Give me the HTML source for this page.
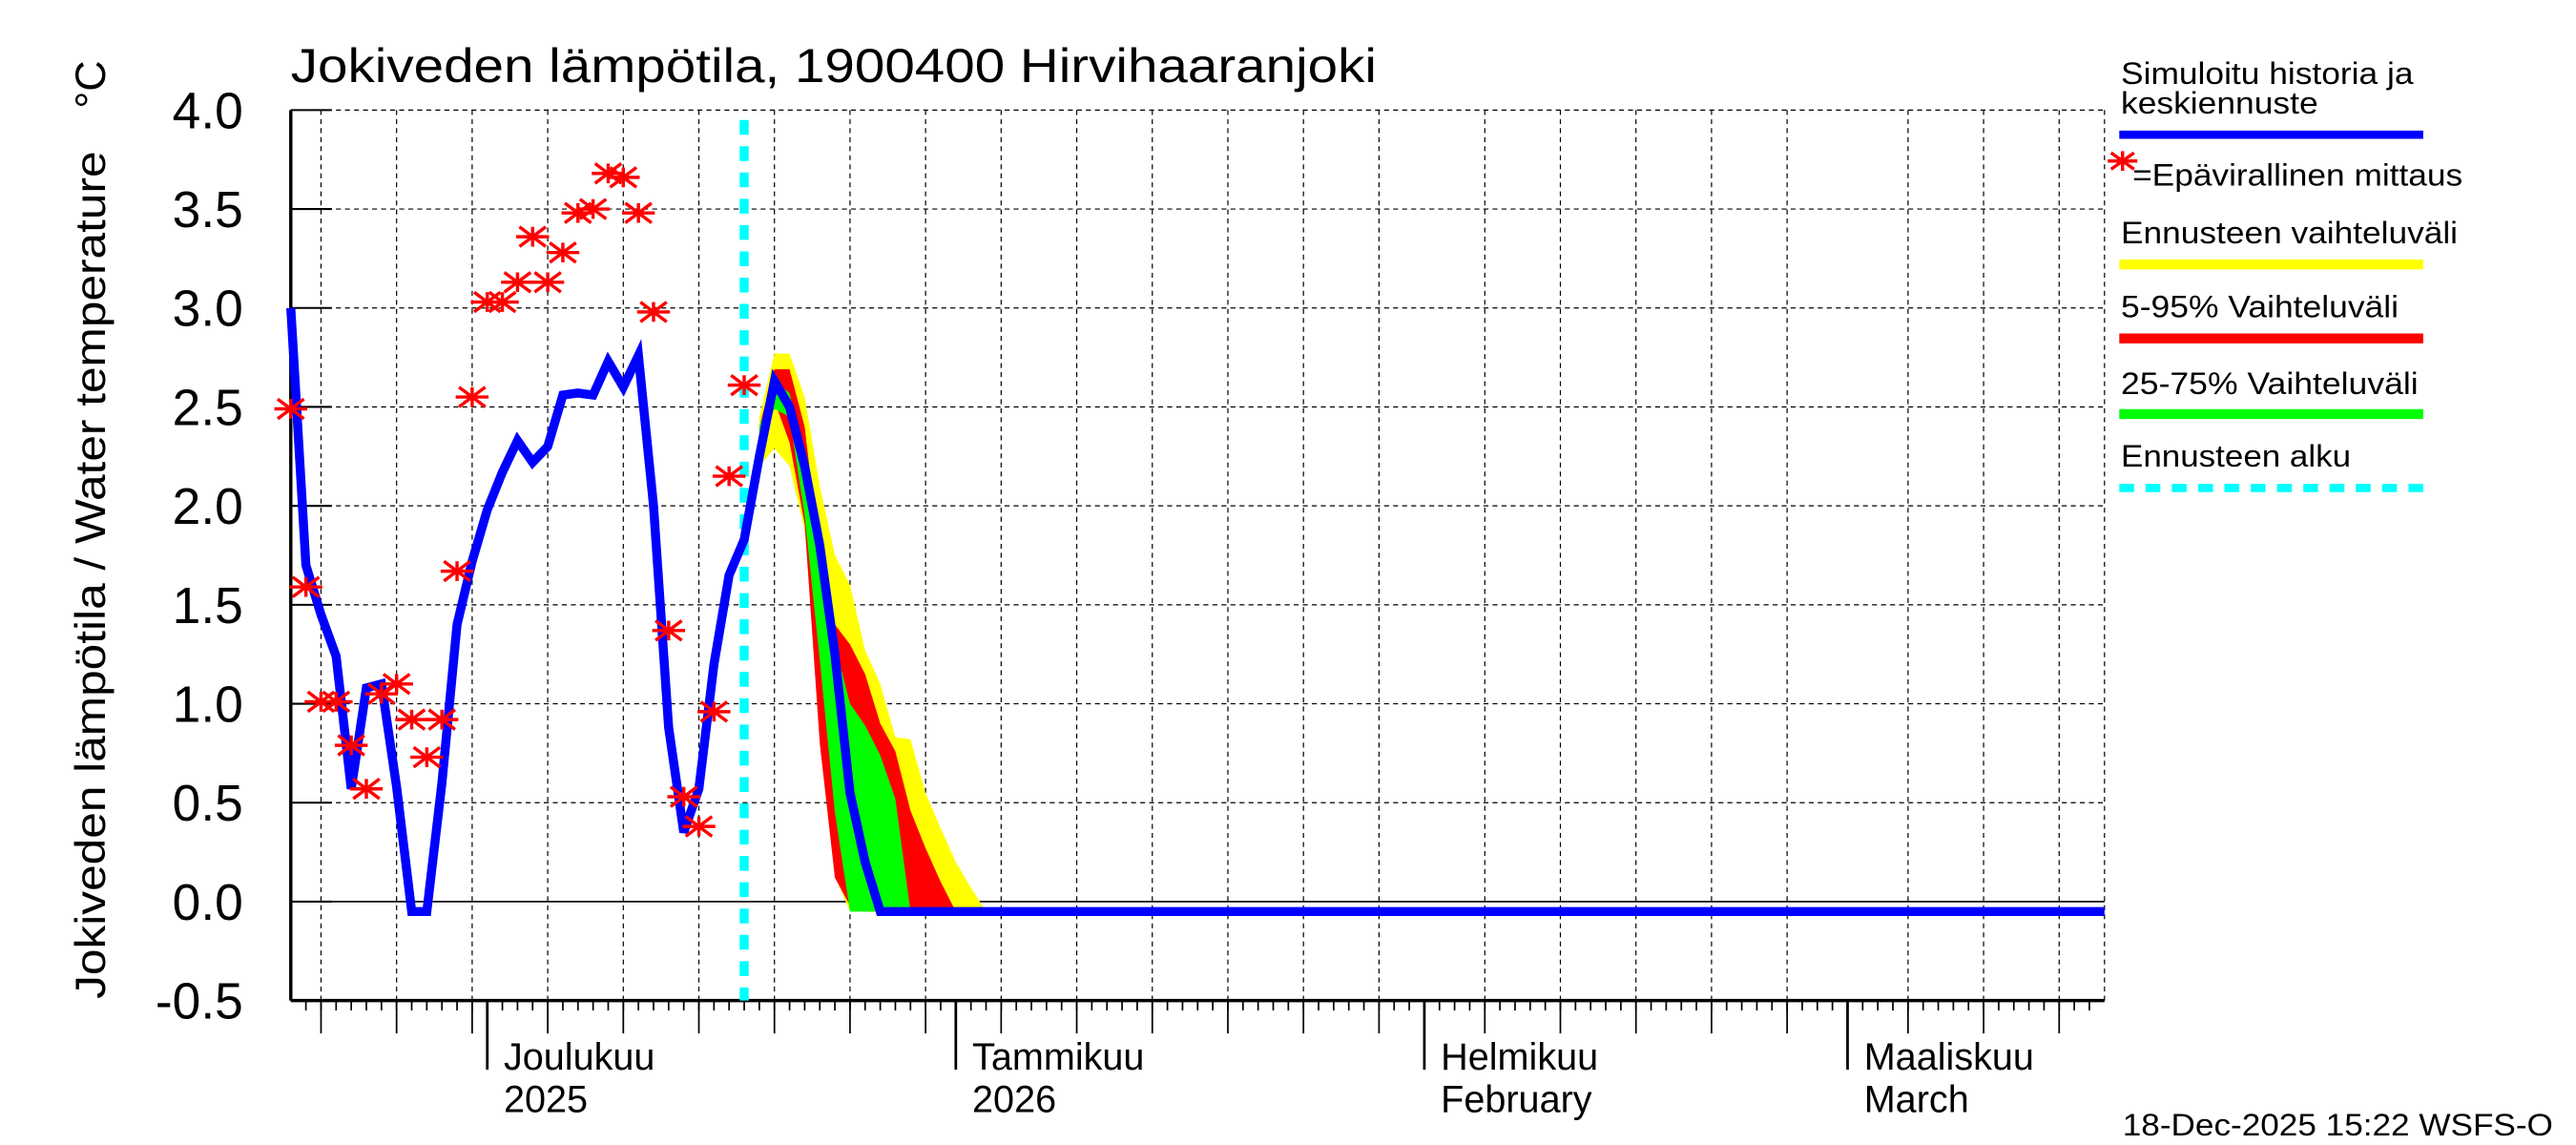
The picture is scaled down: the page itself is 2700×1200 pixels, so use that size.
<!DOCTYPE html>
<html><head><meta charset="utf-8"><style>
html,body{margin:0;padding:0;background:#fff;}
svg{display:block;}
text{font-family:"Liberation Sans",sans-serif;fill:#000;}
</style></head><body>
<svg id="chart" width="2700" height="1200" viewBox="0 0 1568 696.9" preserveAspectRatio="none" xmlns="http://www.w3.org/2000/svg">
<rect x="0" y="0" width="1568" height="697" fill="#fff"/>
<g id="grid"></g>
<g id="bands"></g>
<g id="axes"></g>
<g id="series"></g>
<text x="177" y="50" font-size="29" textLength="661" lengthAdjust="spacingAndGlyphs">Jokiveden lämpötila, 1900400 Hirvihaaranjoki</text>
<text transform="translate(64,608) rotate(-90)" font-size="26" textLength="516" lengthAdjust="spacingAndGlyphs">Jokiveden lämpötila / Water temperature</text>
<text transform="translate(64,66) rotate(-90)" font-size="26">°C</text>
<g>
<text x="1291" y="51" font-size="19" textLength="178" lengthAdjust="spacingAndGlyphs">Simuloitu historia ja</text>
<text x="1291" y="69" font-size="19" textLength="120" lengthAdjust="spacingAndGlyphs">keskiennuste</text>
<line x1="1290" y1="82" x2="1475" y2="82" stroke="#0000ff" stroke-width="5"/>
<g stroke="#ff0000" stroke-width="2"><line x1="1283" y1="98" x2="1301" y2="98"/><line x1="1292" y1="92" x2="1292" y2="104"/><line x1="1285" y1="93" x2="1299" y2="103"/><line x1="1285" y1="103" x2="1299" y2="93"/></g>
<text x="1298" y="113" font-size="19" textLength="201" lengthAdjust="spacingAndGlyphs">=Epävirallinen mittaus</text>
<text x="1291" y="148" font-size="19" textLength="205" lengthAdjust="spacingAndGlyphs">Ennusteen vaihteluväli</text>
<line x1="1290" y1="161" x2="1475" y2="161" stroke="#ffff00" stroke-width="6"/>
<text x="1291" y="193" font-size="19" textLength="169" lengthAdjust="spacingAndGlyphs">5-95% Vaihteluväli</text>
<line x1="1290" y1="206" x2="1475" y2="206" stroke="#ff0000" stroke-width="6"/>
<text x="1291" y="240" font-size="19" textLength="181" lengthAdjust="spacingAndGlyphs">25-75% Vaihteluväli</text>
<line x1="1290" y1="252" x2="1475" y2="252" stroke="#00ff00" stroke-width="6"/>
<text x="1291" y="284" font-size="19" textLength="140" lengthAdjust="spacingAndGlyphs">Ennusteen alku</text>
<line x1="1290" y1="297" x2="1475" y2="297" stroke="#00ffff" stroke-width="5" stroke-dasharray="9,7"/>
</g>
<text x="1292" y="691" font-size="19" textLength="262" lengthAdjust="spacingAndGlyphs">18-Dec-2025 15:22 WSFS-O</text>
</svg>
<script>
// chart data
const yTicks = [4.0, 3.5, 3.0, 2.5, 2.0, 1.5, 1.0, 0.5, 0.0, -0.5];
const yTickLabels = ["4.0","3.5","3.0","2.5","2.0","1.5","1.0","0.5","0.0","-0.5"];
const monthDays = [13, 44, 75, 103];
const monthLabels = ["Joulukuu","Tammikuu","Helmikuu","Maaliskuu"];
const monthLabels2 = ["2025","2026","February","March"];
const gridDays = [2,7,12,17,22,27,32,37,42,47,52,57,62,67,72,79,84,89,94,99,107,112,117];
const simDays = [0,1,2,3,4,5,6,7,8,9,10,11,12,13,14,15,16,17,18,19,20,21,22,23,24,25,26,27,28,29,30,31,32,33,34,35,36,37,38,39,120];
const simValues = [3.0,1.7,1.45,1.24,0.57,1.08,1.1,0.58,-0.05,-0.05,0.6,1.4,1.72,1.98,2.17,2.33,2.22,2.3,2.56,2.57,2.56,2.73,2.6,2.76,2.0,0.88,0.35,0.57,1.2,1.65,1.83,2.25,2.63,2.5,2.2,1.8,1.25,0.55,0.2,-0.05,-0.05];
const obsDays = [0,1,2,3,4,5,6,7,8,9,10,11,12,13,14,15,16,17,18,19,20,21,22,23,24,25,26,27,28,29,30];
const obsValues = [2.49,1.59,1.01,1.01,0.79,0.57,1.05,1.1,0.92,0.73,0.92,1.67,2.55,3.03,3.03,3.13,3.36,3.13,3.28,3.48,3.5,3.68,3.66,3.48,2.98,1.37,0.53,0.38,0.96,2.15,2.61];
const bandDays = [31,32,33,34,35,36,37,38,39,40,41,42,43,44,45,46];
const yelTop = [2.45,2.77,2.77,2.55,2.1,1.75,1.6,1.27,1.1,0.83,0.82,0.55,0.37,0.2,0.07,-0.05];
const yelBot = [2.2,2.29,2.2,1.88,1.05,0.13,-0.05,-0.05,-0.05,-0.05,-0.05,-0.05,-0.05,-0.05,-0.05,-0.05];
const redTop = [2.4,2.69,2.69,2.4,1.75,1.4,1.3,1.15,0.9,0.76,0.46,0.27,0.1,-0.05,-0.05,-0.05];
const redBot = [2.3,2.53,2.32,1.91,0.8,0.12,-0.02,-0.05,-0.05,-0.05,-0.05,-0.05,-0.05,-0.05,-0.05,-0.05];
const grnTop = [2.4,2.63,2.57,2.2,1.7,1.3,1.0,0.89,0.74,0.52,-0.05,-0.05,-0.05,-0.05,-0.05,-0.05];
const grnBot = [2.35,2.49,2.45,1.95,1.22,0.45,-0.05,-0.05,-0.05,-0.05,-0.05,-0.05,-0.05,-0.05,-0.05,-0.05];
const forecastStartDay = 30;
const totalDays = 120;

const NS = "http://www.w3.org/2000/svg";
const X0 = 177, X1 = 1281, YT = 67, YB = 609;
function xs(d){ return X0 + d * (X1 - X0) / totalDays; }
function ys(v){ return YB - (v + 0.5) * (YB - YT) / 4.5; }
function mk(tag, attrs, parent){ const e = document.createElementNS(NS, tag); for (const k in attrs) e.setAttribute(k, attrs[k]); parent.appendChild(e); return e; }

const grid = document.getElementById('grid');
const axes = document.getElementById('axes');
const bands = document.getElementById('bands');
const series = document.getElementById('series');

yTicks.forEach((v, i) => {
  const y = ys(v);
  if (v !== 0 && v !== -0.5) {
    const gl = mk('line', {x1: X0, y1: y, x2: X1, y2: y, stroke: '#000', 'stroke-width': 0.7, 'stroke-dasharray': '3,2.5'}, grid);
    
    
  }
  const tk = mk('line', {x1: X0, y1: y, x2: X0 + 25, y2: y, stroke: '#000', 'stroke-width': 1.2}, axes);
  
  
  const t = mk('text', {x: 148, y: y + 11, 'font-size': 31, 'text-anchor': 'end'}, axes);
  t.textContent = yTickLabels[i];
  
  
});
const zl = mk('line', {x1: X0, y1: ys(0), x2: X1, y2: ys(0), stroke: '#000', 'stroke-width': 1}, grid);



gridDays.forEach(d => {
  const x = xs(d);
  const gl = mk('line', {x1: x, y1: YT, x2: x, y2: YB, stroke: '#000', 'stroke-width': 0.7, 'stroke-dasharray': '3,2.5'}, grid);
  
  
  const tk = mk('line', {x1: x, y1: YB, x2: x, y2: 629, stroke: '#000', 'stroke-width': 1}, axes);
  
  
});
const rb = mk('line', {x1: X1, y1: YT, x2: X1, y2: YB, stroke: '#000', 'stroke-width': 0.7, 'stroke-dasharray': '3,2.5'}, grid);


for (let d = 1; d < totalDays; d++) {
  const tk = mk('line', {x1: xs(d), y1: YB, x2: xs(d), y2: 615, stroke: '#000', 'stroke-width': 1}, axes);
  
  
}
monthDays.forEach((d, i) => {
  const x = xs(d);
  const tk = mk('line', {x1: x, y1: YB, x2: x, y2: 651, stroke: '#000', 'stroke-width': 1.6}, axes);
  
  
  const t1 = mk('text', {x: x + 10, y: 651, 'font-size': 23}, axes);
  t1.textContent = monthLabels[i];
  
  
  const t2 = mk('text', {x: x + 10, y: 677, 'font-size': 23}, axes);
  t2.textContent = monthLabels2[i];
  
  
});
const ya = mk('line', {x1: X0, y1: YT, x2: X0, y2: YB, stroke: '#000', 'stroke-width': 2}, axes);


const xa = mk('line', {x1: X0, y1: YB, x2: X1, y2: YB, stroke: '#000', 'stroke-width': 2}, axes);



function band(top, bot, color, name) {
  let pts = bandDays.map((d, i) => xs(d) + ',' + ys(top[i]));
  for (let i = bandDays.length - 1; i >= 0; i--) pts.push(xs(bandDays[i]) + ',' + ys(bot[i]));
  const p = mk('polygon', {points: pts.join(' '), fill: color}, bands);
  
  
}
band(yelTop, yelBot, '#ffff00', 'band-forecast-range');
band(redTop, redBot, '#ff0000', 'band-5-95');
band(grnTop, grnBot, '#00ff00', 'band-25-75');

const fs = mk('line', {x1: xs(forecastStartDay), y1: 73, x2: xs(forecastStartDay), y2: YB, stroke: '#00ffff', 'stroke-width': 5.5, 'stroke-dasharray': '9,7'}, series);



const sim = mk('polyline', {points: simDays.map((d, i) => xs(d) + ',' + ys(simValues[i])).join(' '), fill: 'none', stroke: '#0000ff', 'stroke-width': 5.5, 'stroke-linejoin': 'miter'}, series);



obsDays.forEach((d, i) => {
  const x = xs(d), y = ys(obsValues[i]);
  const g = mk('g', {stroke: '#ff0000', 'stroke-width': 2}, series);
  
  
  mk('line', {x1: x - 10, y1: y, x2: x + 10, y2: y}, g);
  mk('line', {x1: x, y1: y - 6, x2: x, y2: y + 6}, g);
  mk('line', {x1: x - 8, y1: y - 6, x2: x + 8, y2: y + 6}, g);
  mk('line', {x1: x - 8, y1: y + 6, x2: x + 8, y2: y - 6}, g);
});
</script>
</body></html>
